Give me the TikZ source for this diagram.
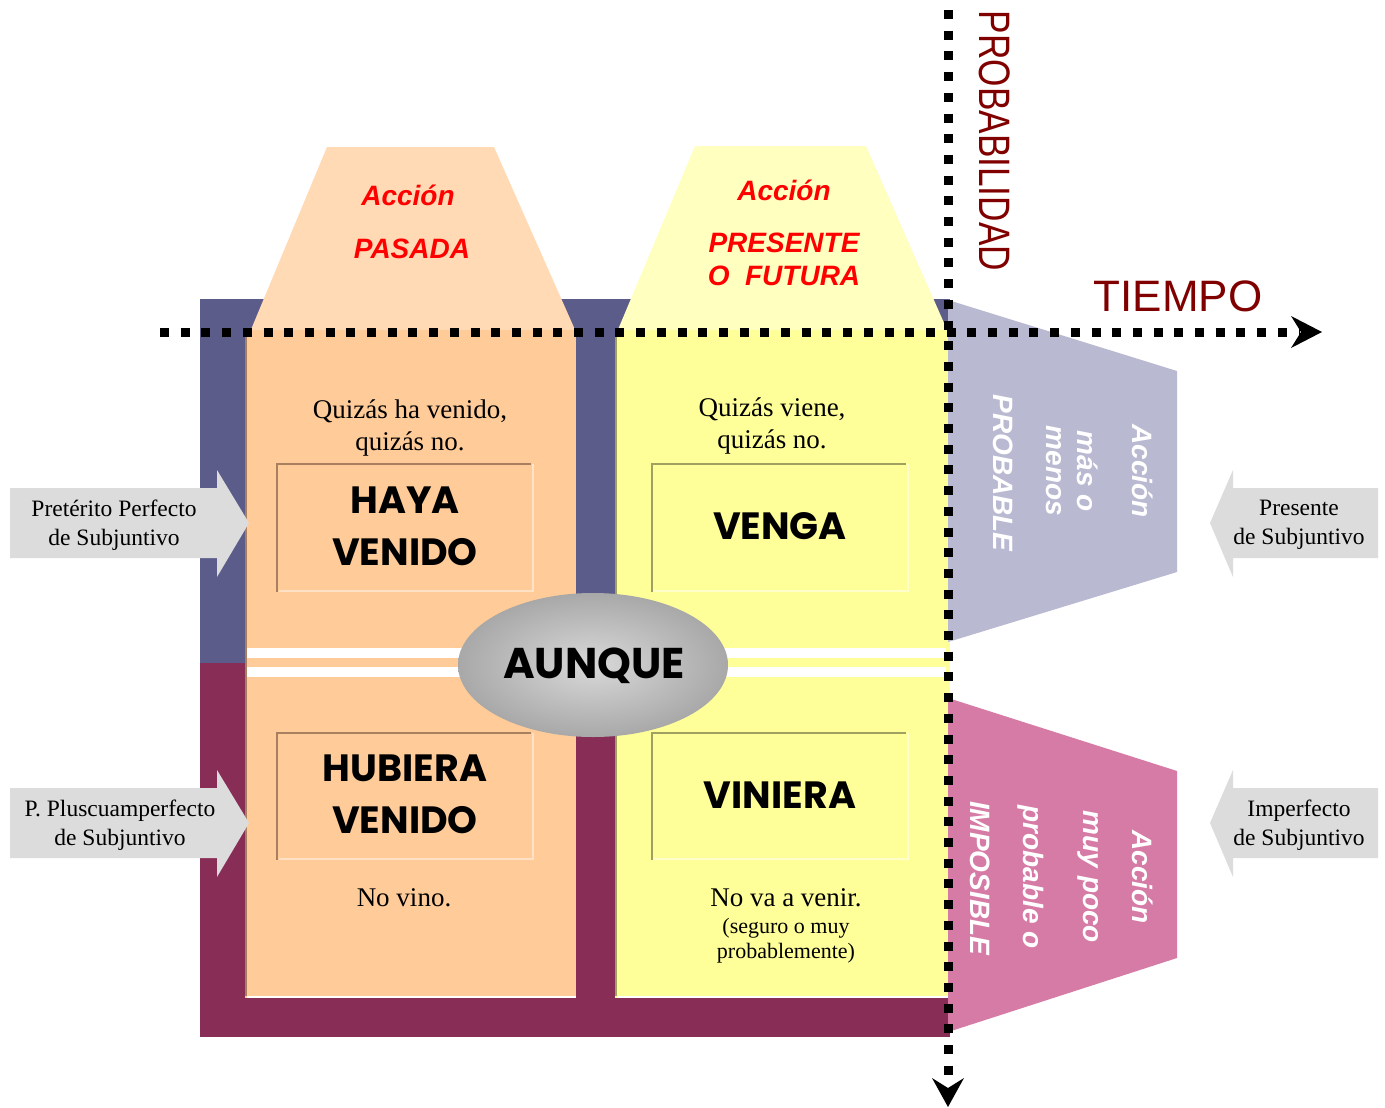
\documentclass[tikz,border=0pt]{standalone}
\usepackage{fontspec}
\setmainfont{Liberation Serif}
\newfontfamily\arialf{Liberation Sans}
\newfontfamily\comicf{Poppins}
\usetikzlibrary{shapes.geometric}
\definecolor{bgblue}{HTML}{5C5C8A}
\definecolor{bgmaroon}{HTML}{882D56}
\definecolor{colorange}{HTML}{FFCC99}
\definecolor{colyellow}{HTML}{FFFF99}
\definecolor{trpeach}{HTML}{FFDAB4}
\definecolor{tryellow}{HTML}{FFFFC0}
\definecolor{sideblue}{HTML}{B9B9D2}
\definecolor{sidepink}{HTML}{D57BA6}
\definecolor{arrgray}{HTML}{DCDCDC}
\definecolor{darkred}{HTML}{800000}
\definecolor{tanline}{HTML}{A88060}
\definecolor{oliveline}{HTML}{A0A060}
\definecolor{lightpeach}{HTML}{FFE2C6}
\definecolor{lightyel}{HTML}{FFFFCC}
\begin{document}
\begin{tikzpicture}[x=1pt,y=-1pt,
  serif/.style={font=\fontsize{27}{32}\selectfont, align=center, inner sep=0pt},
  sideserif/.style={font=\fontsize{23.5}{29}\selectfont, align=center, inner sep=0pt},
  smallserif/.style={font=\fontsize{22}{25}\selectfont, align=center, inner sep=0pt},
  comic/.style={font=\comicf\bfseries\fontsize{38}{52}\selectfont, align=center, inner sep=0pt},
  redlabel/.style={font=\arialf\bfseries\itshape\fontsize{28}{33}\selectfont, text=red, inner sep=0pt},
  whitelabel/.style={font=\arialf\bfseries\itshape\fontsize{28}{33}\selectfont, text=white, inner sep=0pt, rotate=-90},
  dotline/.style={line width=9pt, dash pattern=on 9pt off 11.7pt},
  grayarrow/.style={fill=arrgray},
]
\useasboundingbox (0,0) rectangle (1385,1108);
\fill[white] (0,0) rectangle (1385,1108);

% backgrounds
\fill[bgblue] (200,299) rectangle (950,663);
\fill[bgmaroon] (200,663) rectangle (950,1037);

% top trapezoids
\fill[trpeach] (327,147) -- (494,147) -- (576,332) -- (250,332) -- cycle;
\fill[tryellow] (695,146) -- (866,146) -- (948,332) -- (617,332) -- cycle;

% columns
\fill[colorange] (245,330) rectangle (576,998);
\fill[colyellow] (615,330) rectangle (950,998);
\draw[tanline, line width=2pt] (246,332) -- (246,996);
\draw[white, line width=2pt] (247,997) -- (576,997);
\draw[oliveline, line width=2pt] (616,332) -- (616,996);
\draw[white, line width=2pt] (617,997) -- (948,997);

% white strips
\fill[white] (247,648) rectangle (576,658);
\fill[white] (247,667) rectangle (576,677);
\fill[white] (617,648) rectangle (946,658);
\fill[white] (617,667) rectangle (946,677);

% inner boxes
\draw[lightpeach, line width=2pt] (533,464) -- (533,591) -- (279,591);
\draw[tanline, line width=2pt] (277,592) -- (277,464) -- (531,464);
\draw[lightyel, line width=2pt] (908,464) -- (908,591) -- (654,591);
\draw[oliveline, line width=2pt] (652,592) -- (652,464) -- (906,464);
\draw[lightpeach, line width=2pt] (533,733) -- (533,859) -- (279,859);
\draw[tanline, line width=2pt] (277,860) -- (277,733) -- (531,733);
\draw[lightyel, line width=2pt] (908,733) -- (908,859) -- (654,859);
\draw[oliveline, line width=2pt] (652,860) -- (652,733) -- (906,733);

% side trapezoids
\fill[sideblue] (948,300) -- (1177,371) -- (1177,572) -- (948,642) -- cycle;
\fill[sidepink] (948,698) -- (1177,771) -- (1177,958) -- (948,1032) -- cycle;

% gray block arrows
\fill[grayarrow] (10,488) -- (217,488) -- (217,470) -- (249,523) -- (217,577) -- (217,558) -- (10,558) -- cycle;
\fill[grayarrow] (10,788) -- (217,788) -- (217,770) -- (249,823) -- (217,877) -- (217,858) -- (10,858) -- cycle;
\fill[grayarrow] (1378,488) -- (1233,488) -- (1233,470) -- (1210,523) -- (1233,577) -- (1233,558) -- (1378,558) -- cycle;
\fill[grayarrow] (1378,788) -- (1233,788) -- (1233,770) -- (1210,823) -- (1233,877) -- (1233,858) -- (1378,858) -- cycle;

% ellipse
\node[ellipse, minimum width=270pt, minimum height=144pt, inner sep=0pt,
      shade, inner color=gray!30, outer color=gray!68] (aunque) at (593,665) {};
\node[comic, font=\comicf\bfseries\fontsize{43}{50}\selectfont] (aunquet) at (594,666) {AUNQUE};

% dotted axes
\coordinate (hs) at (160,332);
\coordinate (he) at (1300,332);
\coordinate (vs) at (948,10);
\coordinate (ve) at (948,1086);
\draw[dotline] (hs) -- (he);
\draw[dotline] (vs) -- (ve);
\fill (1322,332) -- (1291,316) -- (1301,332) -- (1291,348) -- cycle;
\fill (948,1107) -- (932,1078) -- (948,1088) -- (964,1078) -- cycle;

% axis labels
\node[font=\arialf\fontsize{44}{50}\selectfont, text=darkred, inner sep=0pt] (tiempo) at (1178,296) {TIEMPO};
\node[font=\arialf\fontsize{44}{50}\selectfont, text=darkred, inner sep=0pt, rotate=-90] (prob) at (995,141) {\scalebox{0.8}[1]{PROBABILIDAD}};

% red labels
\node[redlabel] (a1) at (408,195) {Acción};
\node[redlabel] (p1) at (412,249) {PASADA};
\node[redlabel] (a2) at (784,190) {Acción};
\node[redlabel] (p2) at (784,243) {PRESENTE};
\node[redlabel] (p3) at (784,276) {O\ \ FUTURA};

% serif texts
\node[serif] (q1) at (410,428) {Quizás ha venido,\\quizás no.};
\node[serif] (q2) at (772,426) {Quizás viene,\\quizás no.};
\node[serif] (n1) at (404,898) {No vino.};
\node[serif] (n2) at (786,898) {No va a venir.};
\node[smallserif] (n3) at (786,941) {(seguro o muy\\probablemente)};

% comic texts
\node[comic] (haya) at (405,526) {HAYA\\VENIDO};
\node[comic] (venga) at (780,526) {VENGA};
\node[comic] (hubiera) at (405,794) {HUBIERA\\VENIDO};
\node[comic] (viniera) at (780,795) {VINIERA};

% arrow labels
\node[sideserif] (l1) at (114,525) {Pretérito Perfecto\\de Subjuntivo};
\node[sideserif] (l2) at (120,825) {P. Pluscuamperfecto\\de Subjuntivo};
\node[sideserif] (r1) at (1299,525) {Presente\\de Subjuntivo};
\node[sideserif] (r2) at (1299,825) {Imperfecto\\de Subjuntivo};

% white rotated labels
\node[whitelabel] (b1) at (1143,471) {Acción};
\node[whitelabel] (b2) at (1088,471) {más o};
\node[whitelabel] (b3) at (1054,471) {menos};
\node[whitelabel] (b4) at (1003,473) {PROBABLE};
\node[whitelabel] (k1) at (1143,877) {Acción};
\node[whitelabel] (k2) at (1088,877) {muy poco};
\node[whitelabel] (k3) at (1031,877) {probable o};
\node[whitelabel] (k4) at (980,878) {IMPOSIBLE};
\end{tikzpicture}
\end{document}
